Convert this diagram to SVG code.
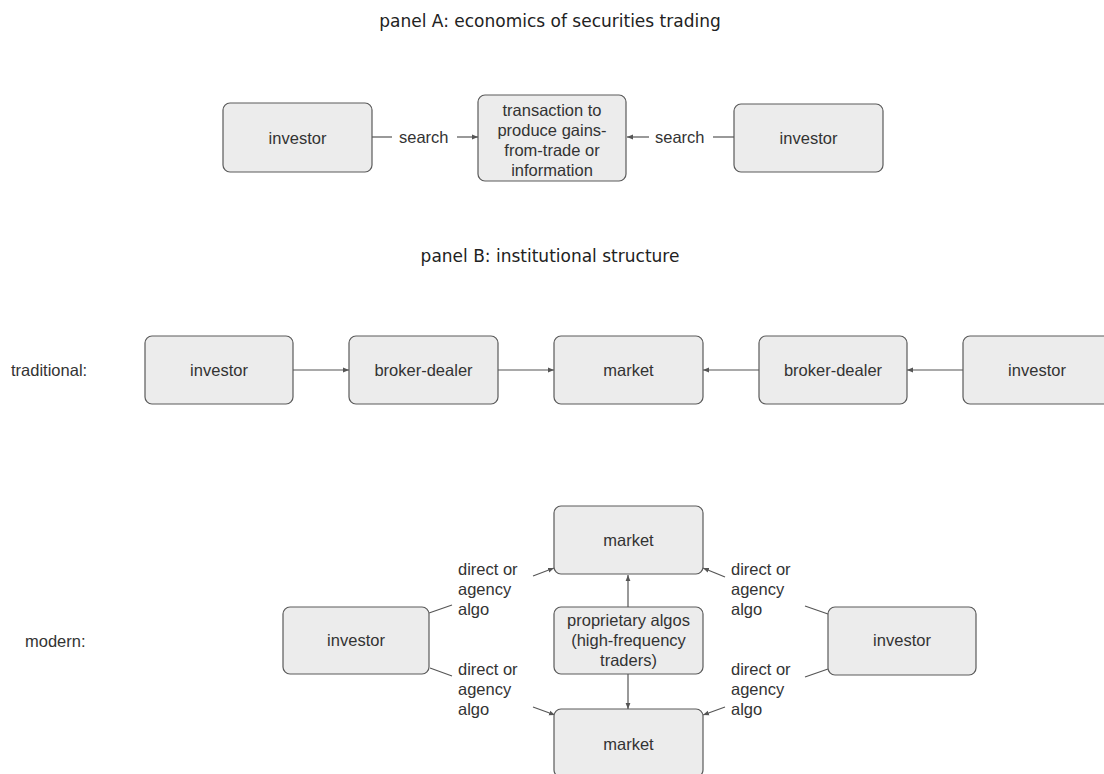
<svg xmlns="http://www.w3.org/2000/svg" width="1104" height="774" viewBox="0 0 1104 774">
<style>
.box{fill:#ececec;stroke:#5a5a5a;stroke-width:1.2}
.t{font-family:"Liberation Sans",Arial,sans-serif;font-size:16.5px;fill:#333;text-anchor:middle}
.l{font-family:"Liberation Sans",Arial,sans-serif;font-size:16.5px;fill:#333}
.title{font-family:"DejaVu Sans","Liberation Sans",sans-serif;font-size:17px;fill:#222;text-anchor:middle}
.c{fill:none;stroke:#555;stroke-width:1.2}
</style>
<defs>
<marker id="ah" viewBox="0 0 10 10" refX="10" refY="5" markerWidth="6" markerHeight="6" orient="auto" markerUnits="userSpaceOnUse">
<path d="M0,1 L10,5 L0,9 z" fill="#555"/>
</marker>
</defs>
<rect width="1104" height="774" fill="#fff"/>
<text class="title" x="550" y="27">panel A: economics of securities trading</text>
<text class="title" x="550" y="262">panel B: institutional structure</text>
<text class="l" x="11" y="376">traditional:</text>
<text class="l" x="25" y="647">modern:</text>

<g id="connectors">
<line class="c" x1="372" y1="137" x2="392" y2="137"/>
<line class="c" x1="457" y1="137" x2="478" y2="137" marker-end="url(#ah)"/>
<line class="c" x1="734" y1="137" x2="713" y2="137"/>
<line class="c" x1="649" y1="137" x2="627" y2="137" marker-end="url(#ah)"/>
<text class="l" x="399" y="143">search</text>
<text class="l" x="655" y="143">search</text>

<line class="c" x1="293" y1="370" x2="349" y2="370" marker-end="url(#ah)"/>
<line class="c" x1="498" y1="370" x2="554" y2="370" marker-end="url(#ah)"/>
<line class="c" x1="759" y1="370" x2="703" y2="370" marker-end="url(#ah)"/>
<line class="c" x1="963" y1="370" x2="907" y2="370" marker-end="url(#ah)"/>

<line class="c" x1="628" y1="607" x2="628" y2="575" marker-end="url(#ah)"/>
<line class="c" x1="628" y1="674" x2="628" y2="709" marker-end="url(#ah)"/>

<line class="c" x1="429" y1="613" x2="452" y2="605"/>
<line class="c" x1="533" y1="576" x2="554" y2="568" marker-end="url(#ah)"/>
<line class="c" x1="430" y1="668" x2="452" y2="676"/>
<line class="c" x1="533" y1="707" x2="555" y2="715" marker-end="url(#ah)"/>
<line class="c" x1="828" y1="614" x2="805" y2="606"/>
<line class="c" x1="725" y1="577" x2="703" y2="568" marker-end="url(#ah)"/>
<line class="c" x1="828" y1="669" x2="805" y2="677"/>
<line class="c" x1="725" y1="707" x2="703" y2="715" marker-end="url(#ah)"/>

<text class="l" x="458" y="575">direct or</text>
<text class="l" x="458" y="595">agency</text>
<text class="l" x="458" y="615">algo</text>
<text class="l" x="458" y="675">direct or</text>
<text class="l" x="458" y="695">agency</text>
<text class="l" x="458" y="715">algo</text>
<text class="l" x="731" y="575">direct or</text>
<text class="l" x="731" y="595">agency</text>
<text class="l" x="731" y="615">algo</text>
<text class="l" x="731" y="675">direct or</text>
<text class="l" x="731" y="695">agency</text>
<text class="l" x="731" y="715">algo</text>
</g>

<g id="a-investor-left"><rect class="box" x="223" y="103" width="149" height="69" rx="7"/><text class="t" x="297.5" y="143.5">investor</text></g>
<g id="a-transaction"><rect class="box" x="478" y="95" width="148" height="86" rx="7"/>
<text class="t" x="552" y="116">transaction to</text>
<text class="t" x="552" y="136">produce gains-</text>
<text class="t" x="552" y="156">from-trade or</text>
<text class="t" x="552" y="176">information</text></g>
<g id="a-investor-right"><rect class="box" x="734" y="104" width="149" height="68" rx="7"/><text class="t" x="808.5" y="144">investor</text></g>

<g id="b-investor-1"><rect class="box" x="145" y="336" width="148" height="68" rx="7"/><text class="t" x="219" y="376">investor</text></g>
<g id="b-broker-1"><rect class="box" x="349" y="336" width="149" height="68" rx="7"/><text class="t" x="423.5" y="376">broker-dealer</text></g>
<g id="b-market"><rect class="box" x="554" y="336" width="149" height="68" rx="7"/><text class="t" x="628.5" y="376">market</text></g>
<g id="b-broker-2"><rect class="box" x="759" y="336" width="148" height="68" rx="7"/><text class="t" x="833" y="376">broker-dealer</text></g>
<g id="b-investor-2"><rect class="box" x="963" y="336" width="148" height="68" rx="7"/><text class="t" x="1037" y="376">investor</text></g>

<g id="m-market-top"><rect class="box" x="554" y="506" width="149" height="68" rx="7"/><text class="t" x="628.5" y="546">market</text></g>
<g id="m-prop"><rect class="box" x="554" y="607" width="149" height="67" rx="7"/>
<text class="t" x="628.5" y="626">proprietary algos</text>
<text class="t" x="628.5" y="646">(high-frequency</text>
<text class="t" x="628.5" y="666">traders)</text></g>
<g id="m-market-bottom"><rect class="box" x="554" y="709" width="149" height="68" rx="7"/><text class="t" x="628.5" y="750">market</text></g>
<g id="m-investor-left"><rect class="box" x="283" y="607" width="146" height="67" rx="7"/><text class="t" x="356" y="646">investor</text></g>
<g id="m-investor-right"><rect class="box" x="828" y="607" width="148" height="68" rx="7"/><text class="t" x="902" y="646">investor</text></g>
</svg>
